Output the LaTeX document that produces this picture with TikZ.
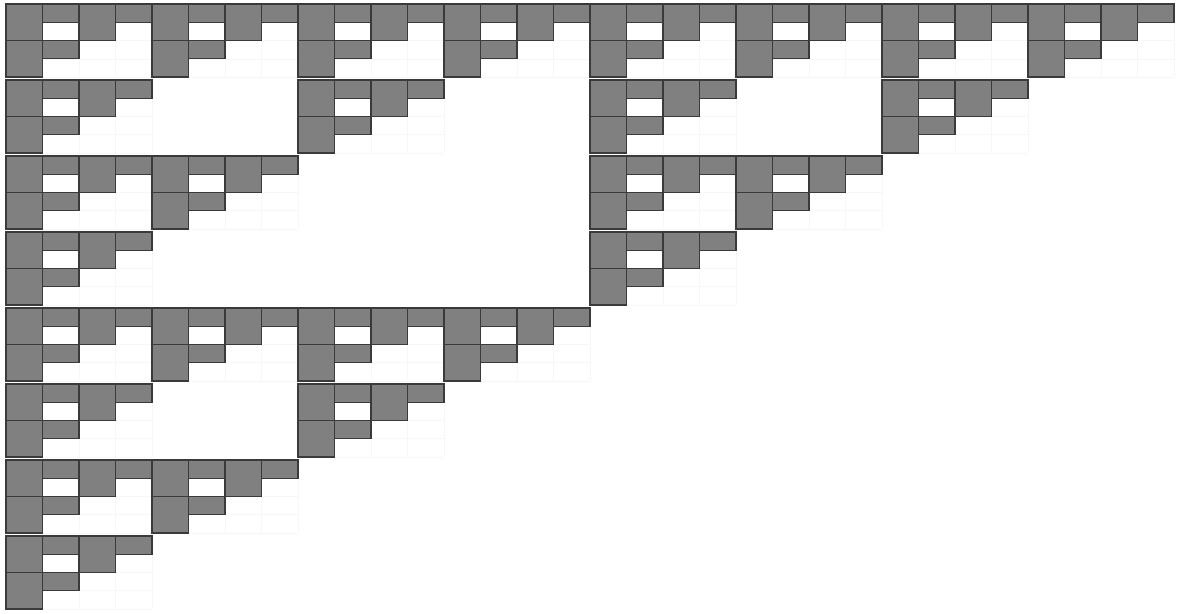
\documentclass[tikz,border=0pt]{standalone}
\usepackage{xcolor}
\usepackage{tikz}
\definecolor{cellgray}{HTML}{808080}
\definecolor{celledge}{HTML}{3A3A3A}
\tikzset{
  cellsq/.style={
    fill=cellgray,
    draw=celledge,
    line width=0.9pt
  },
  cellhalf/.style={
    cellsq
  },
  faintgrid/.style={
    draw=gray!6,
    line width=0.4pt
  }
}

\begin{document}
\begin{tikzpicture}
    \useasboundingbox (0,0) rectangle (32.274,16.795);

    % base blocks, row / columns present
    \foreach \r/\cols in {0/{0,1,2,3,4,5,6,7},1/{0,2,4,6},2/{0,1,4,5},3/{0,4},
                          4/{0,1,2,3},5/{0,2},6/{0,1},7/{0}} {
        \foreach \c in \cols {
            \begin{scope}[shift={(0.164+4*\c,16.685-2.082*\r)}]
                \draw[faintgrid] (0,-2) grid[xstep=1,ystep=0.5] (4,0);
                \foreach \a/\b in {0/0,1/0,0/1} {
                    \draw[cellsq] (2*\a,-\b) rectangle ++(1,-1);
                    \draw[cellhalf] (2*\a+1,-\b) rectangle ++(1,-0.5);
                }
            \end{scope}
        }
    }
\end{tikzpicture}
\end{document}
